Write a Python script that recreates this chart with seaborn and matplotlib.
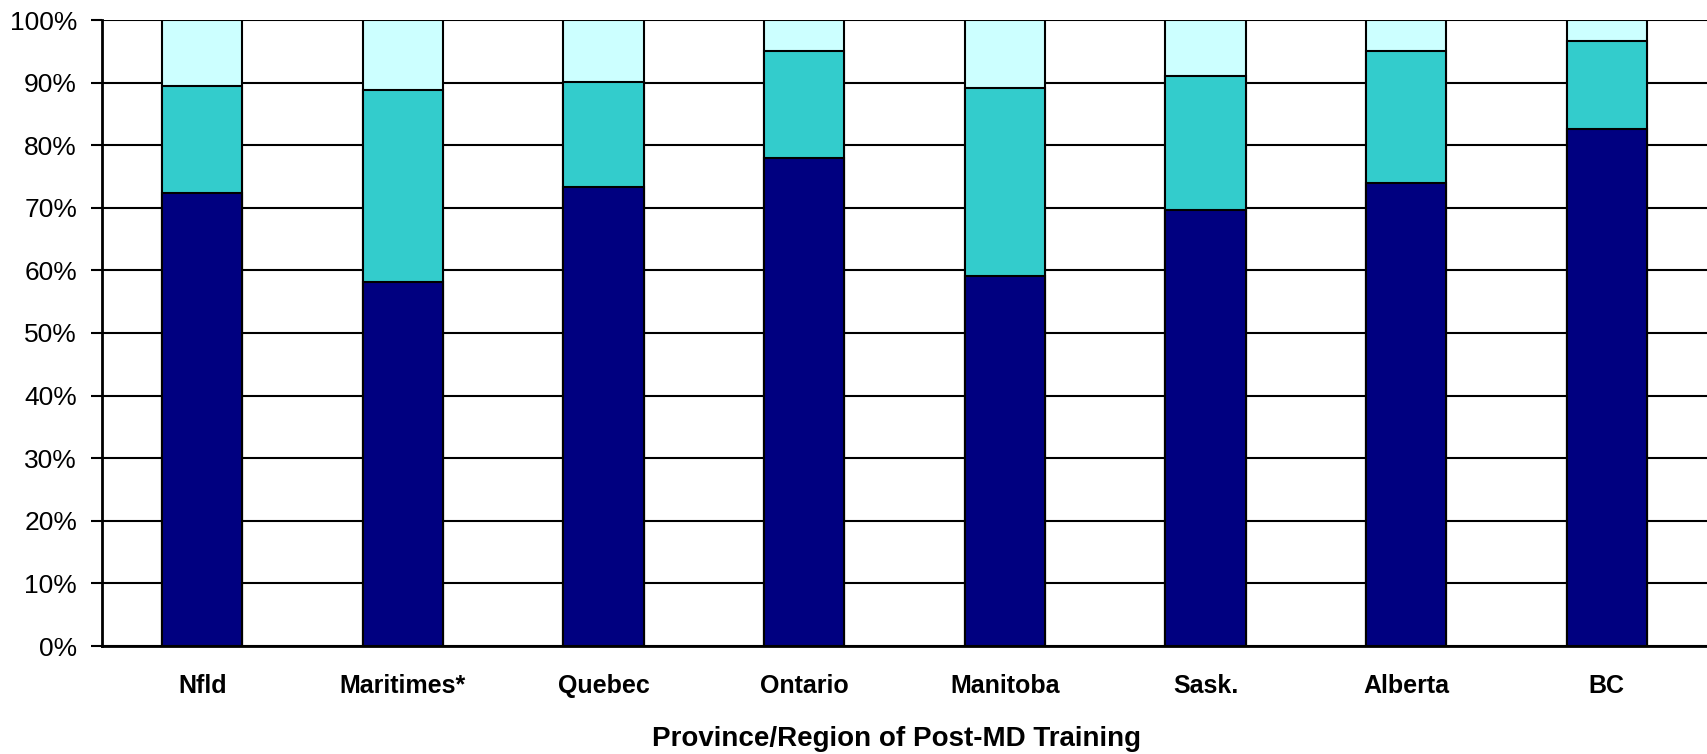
import matplotlib
matplotlib.use("Agg")
import matplotlib.pyplot as plt
import seaborn as sns
import numpy as np
import pandas as pd

# values (percent)
provinces = ["Nfld", "Maritimes*", "Quebec", "Ontario", "Manitoba", "Sask.", "Alberta", "BC"]
bottom_seg = [72.4, 58.1, 73.4, 78.0, 59.1, 69.7, 74.0, 82.6]
middle_seg = [17.1, 30.7, 16.7, 17.0, 30.0, 21.3, 21.0, 14.0]
top_seg = [10.5, 11.2, 9.9, 5.0, 10.9, 9.0, 5.0, 3.4]

df = pd.DataFrame({
    "province": provinces,
    "bottom": bottom_seg,
    "middle": middle_seg,
    "top": top_seg,
})
df["cum_mid"] = df["bottom"] + df["middle"]
df["cum_top"] = df["cum_mid"] + df["top"]

sns.set_style("white", {"text.color": "black", "xtick.color": "black", "ytick.color": "black",
                        "axes.labelcolor": "black"})
plt.rcParams["font.family"] = ["Liberation Sans", "DejaVu Sans"]

fig = plt.figure(figsize=(17.07, 7.54), dpi=100)
ax = fig.add_axes([102 / 1707, 1 - 646 / 754, 1 - 102 / 1707, 626 / 754])

for col, color in [("cum_top", "#CCFFFF"), ("cum_mid", "#33CCCC"), ("bottom", "#000080")]:
    sns.barplot(data=df, x="province", y=col, color=color, width=0.4,
                edgecolor="black", linewidth=1.5, saturation=1, ax=ax, zorder=3)

ax.set_ylim(0, 100)
ax.set_xlim(-0.5, len(provinces) - 0.5)
ax.set_yticks(np.arange(0, 101, 10))
ax.set_yticklabels([f"{v}%" for v in range(0, 101, 10)], fontsize=19)
ax.yaxis.grid(True, color="black", linewidth=1.5, zorder=0)
ax.set_axisbelow(True)

ax.set_xticks(np.arange(len(provinces)))
ax.set_xticklabels(provinces, fontsize=18, fontweight="bold")
ax.set_xticks(np.arange(len(provinces) + 1) - 0.5, minor=True)
ax.tick_params(axis="x", which="major", length=0, pad=20, labelcolor="black")
ax.tick_params(axis="x", which="minor", length=8, width=1.5, color="black", direction="out")
ax.tick_params(axis="y", length=8, width=1.5, color="black", direction="out", left=True,
               pad=10, labelcolor="black")

ax.set_xlabel("Province/Region of Post-MD Training", fontsize=20, fontweight="bold", color="black")
ax.xaxis.set_label_coords(0.495, -0.128)
ax.set_ylabel("")

for side in ["top", "right"]:
    ax.spines[side].set_visible(False)
for side in ["left", "bottom"]:
    ax.spines[side].set_color("black")
    ax.spines[side].set_linewidth(2)

fig.savefig("out.png", dpi=100)
